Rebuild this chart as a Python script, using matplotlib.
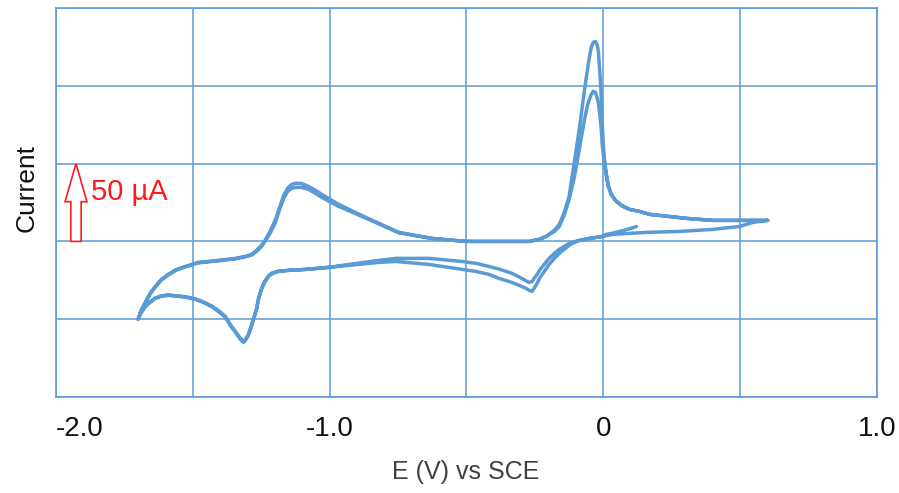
import matplotlib
matplotlib.use("Agg")
import matplotlib.pyplot as plt
from matplotlib.patches import Polygon

plt.rcParams['font.family'] = ['Liberation Sans', 'DejaVu Sans']

# Potential grid for the cathodic (negative-going) sweep, V vs SCE
e_down = [0.601, 0.546, 0.498, 0.399, 0.278, 0.158, 0.033, -0.004, -0.051, -0.088,
          -0.106, -0.125, -0.143, -0.161, -0.179, -0.198, -0.216, -0.231, -0.242, -0.253,
          -0.260, -0.271, -0.282, -0.308, -0.333, -0.381, -0.418, -0.465, -0.516, -0.637,
          -0.758, -0.821, -0.930, -1.004, -1.088, -1.150, -1.187, -1.209, -1.223, -1.238,
          -1.249, -1.260, -1.267, -1.278, -1.286, -1.297, -1.308, -1.315, -1.326, -1.344,
          -1.363, -1.381, -1.407, -1.432, -1.462, -1.491, -1.524, -1.553, -1.590, -1.615,
          -1.637, -1.652, -1.670, -1.681, -1.692, -1.700]
# Current (uA) on the cathodic sweep, cycles 1 and 2
i_down_1 = [13.5, 12.2, 9.6, 7.7, 6.4, 5.8, 4.5, 3.2, 1.9, 0.6,
            -0.6, -2.6, -5.1, -7.7, -10.9, -14.8, -19.3, -23.1, -27.0, -30.2,
            -32.1, -31.5, -30.2, -28.3, -26.4, -23.8, -21.2, -19.3, -18.0, -14.8,
            -12.9, -13.5, -15.4, -16.7, -18.0, -18.6, -19.3, -20.6, -22.5, -26.4,
            -30.8, -37.3, -43.7, -50.1, -54.6, -60.4, -63.6, -64.9, -63.0, -58.5,
            -54.0, -48.8, -45.0, -41.8, -39.2, -37.3, -36.0, -35.3, -34.7, -35.3,
            -36.6, -38.6, -41.1, -43.7, -46.9, -50.1]
i_down_2 = [13.5, 12.2, 9.6, 7.7, 6.4, 5.8, 4.5, 3.2, 1.9, 0.6,
            -0.2, -1.3, -3.2, -5.1, -7.7, -10.9, -14.8, -18.0, -21.2, -23.8,
            -25.7, -26.4, -25.4, -22.8, -20.6, -17.8, -16.1, -14.1, -12.9, -10.9,
            -10.9, -12.2, -14.8, -16.7, -18.0, -18.6, -19.0, -20.2, -22.0, -25.8,
            -30.2, -36.6, -43.1, -49.5, -54.0, -59.8, -63.0, -64.3, -62.4, -58.0,
            -53.5, -48.2, -44.4, -41.4, -38.8, -36.9, -35.6, -35.0, -34.4, -35.0,
            -36.3, -38.3, -40.8, -43.4, -46.6, -50.1]

# Potential grid for the anodic (positive-going) sweep, V vs SCE
e_up = [-1.700, -1.689, -1.674, -1.656, -1.637, -1.615, -1.590, -1.560, -1.527, -1.480,
        -1.407, -1.344, -1.308, -1.286, -1.267, -1.249, -1.234, -1.216, -1.198, -1.183,
        -1.168, -1.154, -1.139, -1.125, -1.103, -1.077, -1.051, -1.029, -0.967, -0.868,
        -0.747, -0.626, -0.502, -0.381, -0.271, -0.234, -0.209, -0.179, -0.161, -0.143,
        -0.125, -0.106, -0.088, -0.070, -0.059, -0.051, -0.044, -0.037, -0.029, -0.022,
        -0.018, -0.015, -0.011, -0.007, -0.004, 0.000, 0.004, 0.011, 0.018, 0.029,
        0.044, 0.066, 0.095, 0.132, 0.168, 0.304, 0.399, 0.524, 0.601]
# Current (uA) on the anodic sweep, cycles 1 and 2
i_up_1 = [-50.1, -44.3, -39.2, -33.4, -28.9, -24.4, -21.2, -18.0, -16.1, -13.5,
          -12.2, -10.9, -9.6, -8.4, -5.8, -2.6, 1.3, 7.1, 14.1, 21.9,
          29.6, 34.1, 36.6, 37.3, 37.3, 35.3, 32.8, 30.2, 23.8, 15.4,
          5.8, 1.9, 0.0, 0.0, 0.0, 1.3, 3.2, 7.1, 10.9, 18.6,
          28.9, 50.8, 72.0, 95.8, 109.3, 118.3, 124.7, 127.9, 128.5, 126.0,
          122.1, 113.8, 104.1, 91.3, 75.2, 62.3, 52.7, 43.1, 36.0, 30.2,
          26.4, 23.1, 20.6, 19.3, 17.4, 14.8, 13.5, 13.5, 13.5]
i_up_2 = [-50.1, -44.6, -39.6, -33.8, -29.3, -24.8, -21.6, -18.4, -16.4, -13.8,
          -12.5, -11.2, -9.9, -8.8, -6.4, -3.2, 0.6, 5.8, 12.2, 20.6,
          27.6, 32.1, 34.1, 34.7, 34.7, 33.4, 30.8, 28.3, 22.5, 15.0,
          5.5, 1.9, 0.0, 0.0, 0.0, 1.3, 3.2, 6.4, 9.6, 16.7,
          27.0, 41.1, 59.1, 77.1, 86.8, 91.3, 94.5, 96.4, 95.8, 91.9,
          88.7, 84.2, 78.4, 70.7, 62.3, 55.9, 50.8, 42.4, 35.3, 30.2,
          26.4, 23.1, 20.6, 19.3, 17.4, 14.8, 13.5, 13.5, 13.5]

# Initial segment from the rest potential into the first cathodic sweep
e_start = [0.121, 0.088, 0.059, 0.029, 0.011]
i_start = [9.6, 7.7, 6.4, 5.1, 4.5]

# Scale bar for the current axis
scale_bar_e = -1.927
scale_bar_i = 50.0
scale_bar_label = "50 µA"

x_ticks = [-2.0, -1.0, 0.0, 1.0]
x_tick_labels = ["-2.0", "-1.0", "0", "1.0"]
x_minor = [-1.5, -0.5, 0.5]
y_grid = [-100, -50, 0, 50, 100, 150]

blue = "#5b9bd5"

fig = plt.figure(figsize=(8.99, 4.93), dpi=100)
ax = fig.add_axes([56 / 899, 1 - 397 / 493, (877 - 56) / 899, (397 - 8) / 493])

# Assemble the full two-cycle scan
first_down = [k for k, e in enumerate(e_down) if e < 0.0]
e_scan = (e_start + [e_down[k] for k in first_down] + e_up
          + e_down[1:] + e_up[1:])
i_scan = (i_start + [i_down_1[k] for k in first_down] + i_up_1
          + i_down_2[1:] + i_up_2[1:])
ax.plot(e_scan, i_scan, color=blue, lw=2.5, solid_joinstyle='round',
        solid_capstyle='round')

ax.set_xlim(-2.0, 1.0)
ax.set_ylim(-100, 150)
ax.set_xticks(x_ticks)
ax.set_xticklabels(x_tick_labels)
ax.set_xticks(x_minor, minor=True)
ax.set_yticks(y_grid)
ax.set_yticklabels([])
ax.tick_params(axis='both', which='both', length=0)
ax.tick_params(axis='x', labelsize=20, pad=14, labelcolor='#111111')
ax.grid(True, which='both', color=blue, lw=1.1)
ax.set_axisbelow(True)
for sp in ax.spines.values():
    sp.set_color(blue)
    sp.set_linewidth(1.2)
ax.get_xticklabels()[0].set_horizontalalignment('left')

# Hollow red scale-bar arrow
hw_head, hw_shaft = 0.040, 0.019
head_base = scale_bar_i * 0.51
arrow = Polygon([
    (scale_bar_e - hw_shaft, 0), (scale_bar_e + hw_shaft, 0),
    (scale_bar_e + hw_shaft, head_base), (scale_bar_e + hw_head, head_base),
    (scale_bar_e, scale_bar_i), (scale_bar_e - hw_head, head_base),
    (scale_bar_e - hw_shaft, head_base)],
    closed=True, facecolor='white', edgecolor='#ff1a1a', lw=1.2, zorder=3)
ax.add_patch(arrow)
ax.text(scale_bar_e + 0.055, scale_bar_i * 0.63, scale_bar_label, color='#ff1a1a',
        fontsize=21, va='center', ha='left', zorder=4)

fig.text(466 / 899, 1 - 472 / 493, "E (V) vs SCE", fontsize=18, color='#404040',
         ha='center', va='center')
fig.text(27 / 899, 1 - 188 / 493, "Current", fontsize=19, color='#111111',
         rotation=90, ha='center', va='center')

fig.savefig("out.png", dpi=100)
